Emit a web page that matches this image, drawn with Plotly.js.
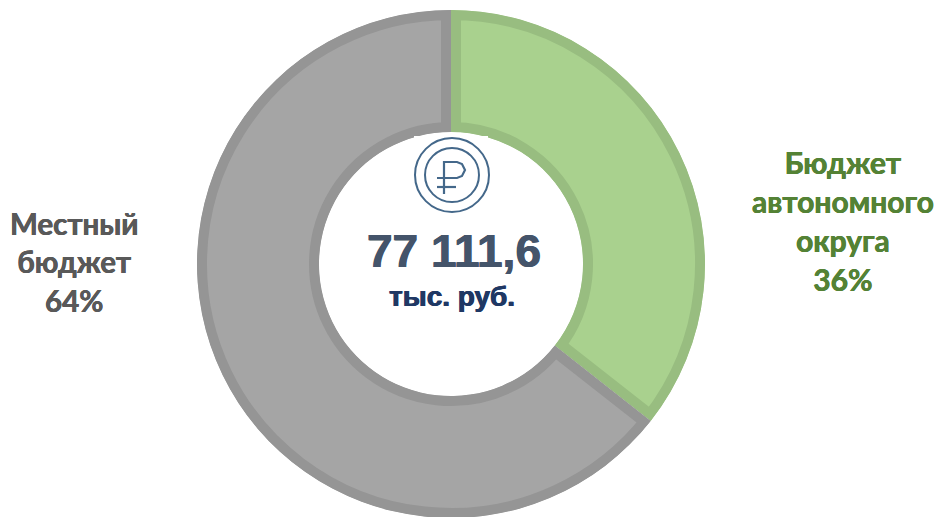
<!DOCTYPE html>
<html><head><meta charset="utf-8">
<script src="https://cdn.plot.ly/plotly-3.0.1.min.js"></script>
<style>html,body{margin:0;padding:0;width:936px;height:517px;overflow:hidden;background:#fff}#c{width:936px;height:540px}</style>
</head><body><div id="c"></div>
<script>
const categories = ["Бюджет автономного округа", "Местный бюджет"];
const shares = [35.6, 64.4];
const fillColors = ["#a9d18e", "#a5a5a5"];
const edgeColors = ["#98bd80", "#959595"];
const centerValue = "77 111,6";
const centerUnit = "тыс. руб.";
const labelLeft = "Местный<br>бюджет<br>64%";
const labelRight = "Бюджет<br>автономного<br>округа<br>36%";

const W = 936, H = 540;
const cx = 451, cy = 264, R = 254, rIn = 132;
const fx = p => p / W, fy = p => 1 - p / H;
const iconInk = "#44688a";
const circle = (r, w) => ({type:"circle", xref:"paper", yref:"paper",
  x0:fx(452-r), x1:fx(452+r), y0:fy(175+r), y1:fy(175-r),
  line:{color:iconInk, width:w}, fillcolor:"rgba(0,0,0,0)"});
const px = (x,y) => fx(x).toFixed(5)+","+fy(y).toFixed(5);
const stroke = (d, w) => ({type:"path", xref:"paper", yref:"paper", path:d, line:{color:iconInk, width:w}});
const bolder = (c, s) => s+"px 0 0 "+c+", -"+s+"px 0 0 "+c;

const data = [{
  type:"pie", labels:categories, values:shares, sort:false, direction:"clockwise", rotation:0,
  hole:rIn/R, textinfo:"none", hoverinfo:"label+percent", showlegend:false,
  domain:{x:[fx(cx-R), fx(cx+R)], y:[fy(cy+R), fy(cy-R)]},
  marker:{colors:fillColors, line:{color:edgeColors, width:20}}
}];
const bowl = "M"+px(444,194)+"L"+px(444,162)+"L"+px(457,162)+"L"+px(462,164)+"L"+px(465,170)+"L"+px(462,176)+"L"+px(457,178)+"L"+px(437,178);
const layout = {
  width:W, height:H, margin:{l:0,r:0,t:0,b:0}, paper_bgcolor:"#fff",
  shapes:[
    {type:"rect", xref:"paper", yref:"paper", x0:fx(414), x1:fx(488), y0:fy(213), y1:fy(136), line:{width:0}, fillcolor:"#fff"},
    circle(37,2), circle(27,2),
    stroke(bowl,2.2), stroke("M"+px(437,187)+"L"+px(456,187),2.2)
  ],
  annotations:[
    {text:centerValue, x:fx(453.5), y:fy(251), font:{family:"Liberation Sans", size:46, color:"#44546a", weight:700, shadow:bolder("#44546a",0.5)}},
    {text:centerUnit, x:fx(452), y:fy(296), font:{family:"Liberation Sans", size:28, color:"#1f3864", weight:700, shadow:bolder("#1f3864",0.5)}},
    {text:labelLeft, x:fx(74), y:fy(262), font:{family:"Lato", size:29.5, color:"#595959", weight:700, shadow:bolder("#595959",0.3)}},
    {text:labelRight, x:fx(842.5), y:fy(221), font:{family:"Lato", size:30, color:"#548235", weight:700, shadow:bolder("#548235",0.3)}}
  ].map(a=>Object.assign({xref:"paper", yref:"paper", showarrow:false, xanchor:"center", yanchor:"middle", align:"center"}, a))
};
Plotly.newPlot("c", data, layout, {staticPlot:true, displayModeBar:false}).then(gd => {
  // keep each slice's outline inside its own shape
  const svg = gd.querySelector("svg.main-svg");
  const defs = svg.querySelector("defs") || svg.insertBefore(document.createElementNS(svg.namespaceURI,"defs"), svg.firstChild);
  gd.querySelectorAll(".slice path.surface").forEach((p,i) => {
    const cp = document.createElementNS(svg.namespaceURI,"clipPath");
    cp.id = "slice-clip-"+i;
    const q = document.createElementNS(svg.namespaceURI,"path");
    q.setAttribute("d", p.getAttribute("d"));
    cp.appendChild(q); defs.appendChild(cp);
    p.setAttribute("clip-path","url(#slice-clip-"+i+")");
  });
});
</script></body></html>
